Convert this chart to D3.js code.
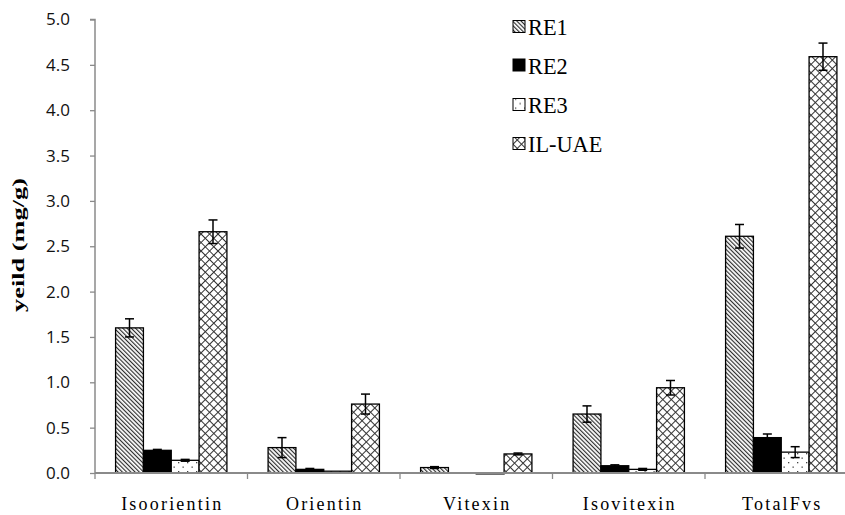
<!DOCTYPE html>
<html>
<head>
<meta charset="utf-8">
<script src="https://cdn.jsdelivr.net/npm/d3@7"></script>
<style>
  html, body { margin: 0; padding: 0; background: #fff; }
  svg { display: block; }
  .serif { font-family: "Liberation Serif", serif; }
</style>
</head>
<body>
<div id="chart"></div>
<script>
// Flavonoid yields (mg/g) for four extraction methods
const categories = ["Isoorientin", "Orientin", "Vitexin", "Isovitexin", "TotalFvs"];
const seriesNames = ["RE1", "RE2", "RE3", "IL-UAE"];
const re1    = [1.60, 0.28, 0.06, 0.65, 2.61];
const re2    = [0.25, 0.04, 0.00, 0.08, 0.39];
const re3    = [0.14, 0.02, -0.01, 0.04, 0.23];
const ilUae  = [2.66, 0.76, 0.21, 0.94, 4.59];
const re1Err   = [0.10, 0.11, 0.01, 0.09, 0.13];
const re2Err   = [0.01, 0.01, 0.00, 0.01, 0.04];
const re3Err   = [0.01, 0.00, 0.00, 0.01, 0.06];
const ilUaeErr = [0.13, 0.11, 0.01, 0.08, 0.15];
const yTicks = [0, 0.5, 1.0, 1.5, 2.0, 2.5, 3.0, 3.5, 4.0, 4.5, 5.0];
const yTitle = "yeild (mg/g)";

const values = [re1, re2, re3, ilUae];
const errors = [re1Err, re2Err, re3Err, ilUaeErr];

const W = 845, H = 515;
const svg = d3.select("#chart").append("svg")
  .attr("width", W).attr("height", H);

// Fill patterns for each series
const defs = svg.append("defs");
const pDiag = defs.append("pattern").attr("id", "pat-re1")
  .attr("patternUnits", "userSpaceOnUse").attr("width", 3).attr("height", 3)
  .attr("patternTransform", "rotate(-45)");
pDiag.append("rect").attr("width", 3).attr("height", 3).attr("fill", "#fff");
pDiag.append("line").attr("x1", 0.6).attr("y1", 0).attr("x2", 0.6).attr("y2", 3)
  .attr("stroke", "#222").attr("stroke-width", 1.1);

const pDots = defs.append("pattern").attr("id", "pat-re3")
  .attr("patternUnits", "userSpaceOnUse").attr("width", 9).attr("height", 9);
pDots.append("rect").attr("width", 9).attr("height", 9).attr("fill", "#fff");
pDots.append("rect").attr("x", 2).attr("y", 3).attr("width", 1.3).attr("height", 1.3).attr("fill", "#444");
pDots.append("rect").attr("x", 6.5).attr("y", 7.5).attr("width", 1.3).attr("height", 1.3).attr("fill", "#444");

const pCross = defs.append("pattern").attr("id", "pat-il")
  .attr("patternUnits", "userSpaceOnUse").attr("width", 6).attr("height", 6)
  .attr("patternTransform", "rotate(45)");
pCross.append("rect").attr("width", 6).attr("height", 6).attr("fill", "#fff");
pCross.append("line").attr("x1", 0.5).attr("y1", 0).attr("x2", 0.5).attr("y2", 6)
  .attr("stroke", "#333").attr("stroke-width", 1);
pCross.append("line").attr("x1", 0).attr("y1", 0.5).attr("x2", 6).attr("y2", 0.5)
  .attr("stroke", "#333").attr("stroke-width", 1);

const fills = ["url(#pat-re1)", "#000", "url(#pat-re3)", "url(#pat-il)"];

// Scales
const x0 = d3.scaleBand().domain(categories).range([95, 857.5]).padding(0);
const bw = x0.bandwidth();
const x1 = d3.scaleBand().domain(seriesNames).range([bw * 0.135, bw * 0.865]).padding(0);
const y = d3.scaleLinear().domain([0, 5]).range([473, 19.5]);

// Y axis
const yAxis = d3.axisLeft(y).tickValues(yTicks).tickFormat(d3.format(".1f"))
  .tickSize(5).tickPadding(20);
const gy = svg.append("g").attr("transform", "translate(95,0)").call(yAxis);
gy.select(".domain").attr("stroke", "#8a8a8a").attr("stroke-width", 1.5)
  .attr("d", `M-5,${y(5)}H0V${y(0)}`);
gy.selectAll(".tick line").attr("stroke", "#8a8a8a").attr("stroke-width", 1.3);
gy.selectAll(".tick text").attr("fill", "#111")
  .attr("font-family", "'Open Sans', 'Liberation Sans', sans-serif")
  .attr("font-size", 17);

// Bars
const groups = svg.append("g").selectAll("g").data(categories).join("g")
  .attr("transform", d => `translate(${x0(d)},0)`);

groups.selectAll("rect")
  .data((c, ci) => seriesNames.map((s, si) => ({ s, si, v: values[si][ci], e: errors[si][ci] })))
  .join("rect")
  .filter(d => d.v !== 0)
  .attr("x", d => x1(d.s))
  .attr("width", x1.bandwidth())
  .attr("y", d => y(Math.max(0, d.v)))
  .attr("height", d => Math.abs(y(d.v) - y(0)))
  .attr("fill", d => fills[d.si])
  .attr("stroke", "#000")
  .attr("stroke-width", 1.3);

// X axis (baseline and category ticks)
const xAxis = d3.axisBottom(x0).tickSize(0).tickFormat("");
const gx = svg.append("g").attr("transform", `translate(0,${y(0)})`).call(xAxis);
gx.select(".domain").attr("stroke", "#8a8a8a").attr("stroke-width", 1.8)
  .attr("d", `M95,0H${W}`);
gx.selectAll(".tick").remove();
const boundaries = categories.map(c => x0(c)).concat([x0(categories[categories.length - 1]) + bw]);
gx.selectAll("line.cat-tick").data(boundaries).join("line")
  .attr("class", "cat-tick")
  .attr("x1", d => d).attr("x2", d => d)
  .attr("y1", 0).attr("y2", 6)
  .attr("stroke", "#8a8a8a").attr("stroke-width", 1.3);

// Error bars
const eb = groups.selectAll("g.err")
  .data((c, ci) => seriesNames.map((s, si) => ({ s, si, v: values[si][ci], e: errors[si][ci] }))
    .filter(d => d.e > 0))
  .join("g").attr("class", "err")
  .attr("stroke", "#000").attr("stroke-width", 1.5);
eb.append("line")
  .attr("x1", d => x1(d.s) + x1.bandwidth() / 2).attr("x2", d => x1(d.s) + x1.bandwidth() / 2)
  .attr("y1", d => y(d.v + d.e)).attr("y2", d => y(d.v - d.e));
eb.append("line")
  .attr("x1", d => x1(d.s) + x1.bandwidth() / 2 - 4.5).attr("x2", d => x1(d.s) + x1.bandwidth() / 2 + 4.5)
  .attr("y1", d => y(d.v + d.e)).attr("y2", d => y(d.v + d.e));
eb.append("line")
  .attr("x1", d => x1(d.s) + x1.bandwidth() / 2 - 4.5).attr("x2", d => x1(d.s) + x1.bandwidth() / 2 + 4.5)
  .attr("y1", d => y(d.v - d.e)).attr("y2", d => y(d.v - d.e));

// Category labels
svg.append("g").selectAll("text").data(categories).join("text")
  .attr("class", "serif")
  .attr("x", d => x0(d) + bw / 2 + 1)
  .attr("y", 509.5)
  .attr("text-anchor", "middle")
  .attr("font-size", 18)
  .attr("letter-spacing", 2.2)
  .attr("fill", "#000")
  .text(d => d);

// Y axis title
svg.append("text")
  .attr("class", "serif")
  .attr("transform", "translate(24,245) rotate(-90)")
  .attr("text-anchor", "middle")
  .attr("textLength", 134)
  .attr("lengthAdjust", "spacingAndGlyphs")
  .attr("font-size", 16)
  .attr("font-weight", "bold")
  .attr("fill", "#000")
  .text(yTitle);

// Legend
const legendRows = [26.5, 65, 104.5, 143.5];
const lg = svg.append("g").selectAll("g").data(seriesNames).join("g")
  .attr("transform", (d, i) => `translate(513,${legendRows[i]})`);
lg.append("rect")
  .attr("x", 0).attr("y", -6).attr("width", 12).attr("height", 12)
  .attr("fill", (d, i) => fills[i])
  .attr("stroke", "#000").attr("stroke-width", 1);
lg.append("text")
  .attr("class", "serif")
  .attr("transform", "translate(15,8.5) scale(0.93,1)")
  .attr("font-size", 24)
  .attr("fill", "#000")
  .text(d => d);
</script>
</body>
</html>
